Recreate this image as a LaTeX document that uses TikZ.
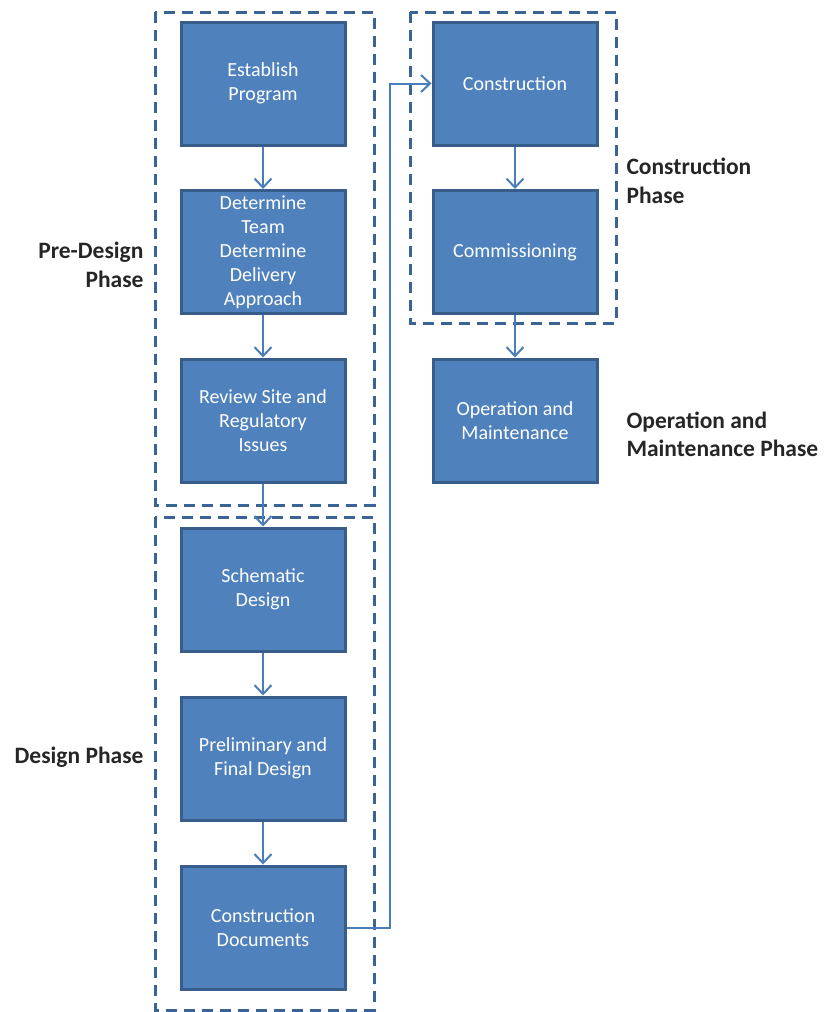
\documentclass[tikz,border=0pt]{standalone}
\usepackage{fontspec}
\setmainfont{Carlito}
\usepackage{tikz}
\usetikzlibrary{arrows.meta}

\definecolor{boxfill}{HTML}{4F81BD}
\definecolor{boxline}{HTML}{385D8A}
\definecolor{flowline}{HTML}{4A7EBB}
\definecolor{dashline}{HTML}{3B6496}
\definecolor{labeltext}{HTML}{262626}

\tikzset{
  stage/.style={shape=rectangle, fill=boxfill, draw=boxline, line width=3pt,
    minimum width=164pt, minimum height=123pt, inner sep=0pt, text=white,
    align=center, font=\fontsize{20}{24}\selectfont},
  flow/.style={draw=flowline, line width=2pt, -{Straight Barb[length=9pt,width=17pt,line width=2pt]}},
  phasebox/.style={draw=dashline, line width=3pt, dash pattern=on 11pt off 7pt},
  phaselabel/.style={text=labeltext, font=\bfseries\fontsize{23.5}{28.5}\selectfont}
}

\begin{document}
\begin{tikzpicture}[x=1pt, y=-1pt]
\useasboundingbox (0,0) rectangle (825,1012);

% phases
\draw[phasebox] (155,12) rectangle (374,505);
\draw[phasebox] (155,517) rectangle (374,1010);
\draw[phasebox] (410,12) rectangle (616,323);

% left column
\node[stage](program) at (263,83.5) {Establish\\Program};
\node[stage](team) at (263,252) {Determine\\Team\\Determine\\Delivery\\Approach};
\node[stage](site) at (263,420.5) {Review Site and\\Regulatory\\Issues};
\node[stage](schematic) at (263,589.5) {Schematic\\Design};
\node[stage](final) at (263,758.5) {Preliminary and\\Final Design};
\node[stage](docs) at (263,927.5) {Construction\\Documents};

% right column
\node[stage](construct) at (515,83.5) {Construction};
\node[stage](commission) at (515,252) {Commissioning};
\node[stage](operate) at (515,420.5) {Operation and\\Maintenance};

\path[flow] (program) -- (team);
\path[flow] (team) -- (site);
\path[flow] (site) -- (schematic);
\path[flow] (schematic) -- (final);
\path[flow] (final) -- (docs);
\path[flow] (docs.east) -- ++(43,0) |- (construct.west);
\path[flow] (construct) -- (commission);
\path[flow] (commission) -- (operate);

% labels
\node[phaselabel, anchor=east, align=right](predesign) at (147,265) {Pre-Design\\Phase};
\node[phaselabel, anchor=east, align=right](design) at (147,757) {Design Phase};
\node[phaselabel, anchor=west, align=left](construction) at (623,181) {Construction\\Phase};
\node[phaselabel, anchor=west, align=left](operation) at (623,434.5) {Operation and\\Maintenance Phase};
\end{tikzpicture}
\end{document}
